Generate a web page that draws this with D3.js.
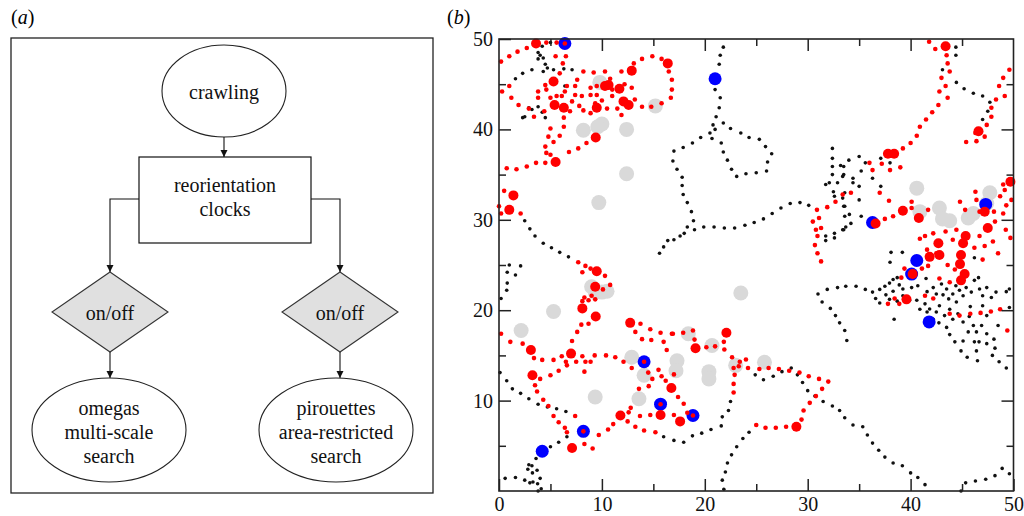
<!DOCTYPE html>
<html>
<head>
<meta charset="utf-8">
<script src="https://cdn.jsdelivr.net/npm/d3@7/dist/d3.min.js"></script>
<style>
  html, body { margin: 0; padding: 0; background: #fff; }
  svg { display: block; }
</style>
</head>
<body>
<svg id="fig" width="1024" height="516"></svg>
<script>
// ---------- panel (a): flow chart labels ----------
const topNode = ["crawling"];
const clockNode = ["reorientation", "clocks"];
const switchNode = ["on/off"];
const leftLeaf = ["omegas", "multi-scale", "search"];
const rightLeaf = ["pirouettes", "area-restricted", "search"];

// ---------- panel (b): positions in arena units [x, y] ----------
const grayPatches = [
  [9.8,45.2],[8.2,39.9],[10.0,40.6],[9.6,40.3],[12.4,40.0],[15.2,42.6],[12.4,35.1],[9.7,31.9],
  [40.6,33.5],[40.9,30.9],[42.8,31.3],[43.1,30.1],[43.8,29.9],[45.6,30.2],[46.1,30.7],[47.7,33.0],[47.4,31.8],
  [5.3,19.85],[2.15,17.75],[9.35,10.4],[12.9,14.8],[14.1,12.8],[13.6,10.2],[9.35,22.0],[10.0,22.0],[10.5,22.1],[9.0,22.6],
  [23.5,21.9],[18.4,17.4],[20.7,16.1],[17.3,14.4],[17.2,13.3],[20.4,13.2],[20.4,12.4],[23.0,13.9],[25.8,14.25]
];

const trackDots = [
  // upper left
  [3.8,48.5],[4.3,47.9],[3.8,47.8],[4.5,47.2],[4.7,46.8],[4.3,46.4],[3.2,46.6],[2.3,46.2],[1.6,45.6],[5.3,46.6],
  [6.3,46.7],[7.1,46.6],[6.4,44.8],[3.8,42.5],[2.9,42.4],[2.5,41.4],[4.5,41.3],[4.2,41.9],[5.0,49.6],[4.2,49.2],
  [4.0,48.2],[2.3,41.3],[3.2,42.2],
  [2.5,29.9],[3.0,29.0],[3.5,28.2],[4.3,27.4],[5.1,26.9],[5.9,26.4],[6.75,25.9],
  // middle top
  [21.8,49.1],[21.5,48.2],[21.4,47.2],[21.0,44.4],[21.5,43.5],[21.4,42.4],[21.1,41.4],[20.8,40.5],[21.8,40.7],[21.0,40.0],
  [20.5,39.6],[20.7,39.0],[19.6,39.1],[18.8,38.5],[17.9,38.0],[17.0,37.6],[16.9,36.5],[17.3,35.6],[17.8,34.7],[17.8,33.8],
  [17.9,32.8],[18.3,31.9],[18.7,30.9],[18.9,29.9],[18.3,29.2],[18.0,28.5],[17.6,28.2],[17.0,27.8],[16.4,27.7],[16.0,27.0],[15.6,26.3],
  [21.6,38.5],[21.8,37.5],[22.2,36.6],[22.6,35.6],[23.1,34.8],[24.0,35.1],[25.0,35.2],[26.0,35.4],[26.1,36.4],[26.5,37.3],
  [25.9,38.1],[25.3,38.9],[24.3,39.1],[23.5,39.6],[22.5,40.1],
  [19.0,28.9],[19.9,29.2],[20.9,29.2],[21.9,29.1],[22.9,29.1],[23.9,29.4],[24.8,29.7],[25.7,30.1],[26.55,30.7],[27.4,31.3],
  [28.3,31.8],[29.25,31.9],[30.1,31.6],
  // upper right
  [32.4,37.9],[32.4,36.8],[32.4,35.9],[32.4,35.0],[32.1,34.1],[31.75,33.9],[32.9,34.1],[32.5,33.1],[32.6,32.6],[33.5,35.9],
  [33.5,35.0],[33.4,32.4],[33.5,31.5],[31.75,28.2],[31.75,27.7],[32.6,28.5],[32.6,28.0],[33.5,28.9],
  [33.2,36.0],[34.0,36.6],[35.0,37.0],[33.4,34.8],[34.4,34.6],[35.2,35.4],[35.6,36.3],[36.3,34.6],[37.1,33.7],[35.0,33.7],
  [34.4,34.1],[33.6,33.0],[35.0,32.2],[33.6,31.5],[34.05,30.6],[33.6,30.4],[35.2,30.4],[34.2,29.6],[33.7,29.2],[33.4,28.9],
  [38.0,36.3],[37.1,36.8],
  [44.4,49.1],[44.4,48.2],[43.1,46.6],[44.45,45.2],[45.2,44.5],[46.1,44.0],[47.0,43.7],[47.7,43.0],[47.5,42.0],[47.0,41.1],
  [38.1,26.4],[39.2,26.4],[38.0,25.3],[46.2,25.8],
  // lower left
  [1.0,25.0],[2.1,24.9],[0.8,24.2],[1.6,23.9],[0.8,23.0],[0.75,22.2],[0.2,21.3],
  [0.1,13.1],[0.75,12.2],[1.3,11.3],[2.1,10.8],[2.9,10.2],[3.8,9.6],[4.7,9.3],[5.6,9.1],[6.5,8.8],
  [5.0,4.9],[5.8,5.4],[6.6,6.0],[3.6,3.6],[2.9,2.9],[3.2,2.8],[2.8,2.4],[3.25,2.0],[3.7,2.3],[3.3,1.0],[3.75,0.8],[4.1,0.25],
  [0.6,1.4],[1.6,1.5],[2.5,1.2],[3.0,0.9],[4.0,1.4],[3.8,0.0],
  // lower middle
  [16.0,6.0],[17.0,5.6],[17.95,5.4],[18.8,6.1],[19.7,6.4],[20.6,6.8],[21.6,7.2],[21.7,8.2],[22.3,8.9],[22.5,9.9],
  [24.3,6.5],[23.7,5.8],[23.1,4.9],[22.6,4.0],[22.2,3.1],[22.0,2.1],[21.7,1.2],[21.85,0.2],
  [24.9,12.85],[25.7,12.3],[26.65,12.7],[27.5,13.2],[28.4,13.6],[29.0,12.85],[29.5,12.0],[30.0,11.1],[30.7,10.5],[31.5,9.9],
  [32.4,9.4],[33.1,8.9],[33.6,8.1],[34.4,7.3],[35.35,7.1],[35.8,6.2],[36.3,5.3],[36.9,4.5],[37.5,3.75],[38.3,3.1],
  [39.2,2.8],[40.0,2.0],[40.7,1.5],[41.4,0.7],
  [31.0,21.8],[31.9,22.3],[32.9,22.5],[33.7,22.65],[31.4,20.9],[32.2,20.2],[32.7,19.4],[33.1,18.6],[33.6,17.75],[33.8,16.65],
  // lower right
  [34.7,22.65],[35.6,22.3],[36.3,22.0],[37.0,22.3],[37.5,22.65],[37.95,23.0],[38.3,23.4],[38.7,23.6],[36.6,21.3],[37.0,20.8],
  [37.6,21.7],[37.95,21.2],[38.3,22.1],[38.9,22.8],[39.25,22.35],[40.1,22.5],[40.7,22.7],[41.5,23.5],[41.6,22.05],[42.2,22.5],
  [42.5,21.8],[43.0,22.9],[43.15,21.7],[43.5,22.35],[43.7,21.25],[44.1,21.8],[44.4,22.7],[44.75,22.2],[45.1,21.6],[45.4,22.5],
  [45.9,22.0],[46.2,23.3],[46.6,23.6],[46.7,22.35],[47.0,21.6],[47.4,22.5],[47.85,21.4],[48.3,22.0],[49.3,22.05],[49.6,22.35],
  [40.6,21.1],[41.4,20.7],[41.85,20.14],[42.5,19.8],[42.8,20.5],[43.3,19.4],[43.8,20.1],[44.1,19.0],[44.6,19.6],[45.1,18.7],
  [45.7,19.3],[46.1,18.3],[46.4,17.6],[46.9,18.3],[47.4,17.4],[46.65,16.5],[46.2,16.5],[45.6,17.6],[45.1,16.6],[44.3,16.5],
  [43.8,17.3],[43.5,18.1],[42.75,18.6],[42.2,19.0],[41.6,19.8],[40.9,20.1],[39.9,21.1],[39.25,21.6],[38.7,21.0],[38.4,19.0],
  [44.9,15.5],[45.5,14.8],[46.4,15.5],[46.5,14.4],[47.95,15.0],[48.6,14.3],[49.3,13.6],[48.1,16.8],[48.2,15.8],[47.4,16.3],
  [48.5,18.3],[49.6,20.3],[47.0,20.5],[47.4,19.4],[45.8,20.4],[44.45,20.9],
  [44.9,0.0],[45.35,0.9],[46.3,1.1],[47.3,1.3],[48.2,1.7],[48.9,2.5],[49.6,1.9]
];

const redTrack = [
  // upper left
  [0.2,47.5],[1.0,48.1],[1.8,48.6],[2.7,49.0],[4.6,49.6],[5.6,49.6],[5.5,48.1],[6.5,48.1],
  [0.3,44.2],[1.0,44.8],[1.2,43.5],[1.9,42.7],[2.9,42.3],[3.4,41.4],[4.4,42.0],
  [3.8,44.2],[3.8,43.5],[4.6,44.4],[4.5,44.9],[5.0,43.5],[5.6,43.7],[6.1,43.7],[6.4,44.2],[6.6,44.8],[7.4,44.8],
  [7.4,43.8],[7.1,43.1],[8.05,43.7],[8.2,46.4],[9.2,46.3],[10.3,46.4],[11.9,46.4],[8.2,42.1],[8.9,41.8],[9.35,42.9],
  [8.9,43.8],[9.5,43.8],[8.9,44.6],[9.5,44.8],[10.5,42.3],[11.5,42.3],[11.9,41.6],[11.0,43.7],[11.0,44.4],[12.9,44.6],
  [13.2,43.3],[13.9,42.5],[14.8,42.5],[15.8,42.9],[16.7,43.5],[16.8,44.4],[16.8,45.5],[16.5,46.4],[15.8,47.8],[14.9,48.1],
  [13.9,47.8],[13.1,47.3],[6.2,47.3],[5.9,46.2],[7.6,45.5],[10.8,45.6],[12.2,45.0],[7.8,42.6],[6.9,42.0],[10.0,43.2],
  [5.0,40.1],[4.8,39.2],[5.3,38.6],[4.5,38.1],[4.6,37.4],[5.0,37.2],[5.9,39.3],[6.3,40.3],[6.3,41.3],[6.8,37.5],
  [7.7,37.9],[8.5,38.5],
  [0.75,35.7],[1.7,35.6],[2.7,35.9],[3.6,36.3],[4.5,36.3],
  [0.5,33.2],[0.0,31.5],[0.2,30.7],[2.1,30.7],[6.4,49.5],
  // right middle
  [30.9,31.1],[31.9,31.4],[32.7,32.0],[33.4,32.8],[31.1,30.2],[30.5,29.8],[31.3,29.1],[30.8,28.9],[30.95,28.2],[30.7,27.2],
  [30.95,26.3],[31.3,25.4],
  [41.8,49.7],[42.4,48.9],[43.5,48.2],[43.6,47.3],[43.8,46.4],[43.0,45.7],[43.4,44.8],[42.8,44.2],[43.6,43.5],[42.7,42.7],
  [42.1,41.9],[41.5,41.1],[40.9,40.3],[40.6,39.3],[40.0,38.5],[39.25,37.9],[39.0,35.8],[38.0,35.5],[37.2,36.2],[36.0,36.3],
  [49.6,46.6],[49.0,45.7],[48.6,44.8],[49.15,43.7],[48.3,43.3],[47.85,42.4],[47.85,41.4],[47.4,40.5],[47.2,39.2],[46.3,39.6],
  [45.4,38.6],[46.4,38.7],
  [34.2,33.0],[36.3,35.5],[37.0,33.0],[37.9,32.1],[38.3,30.4],[37.5,30.1],[40.1,32.0],[40.1,31.3],[41.7,31.1],[41.4,28.2],
  [42.2,28.5],[44.8,32.0],[45.3,31.1],[46.3,33.1],[46.4,32.2],[46.7,30.9],[48.1,30.9],[48.7,32.6],[49.15,33.3],[49.8,32.2],
  [49.0,33.9],[49.3,31.6],[48.2,29.8],[49.25,28.9],[49.7,28.0],[48.0,27.6],[47.2,27.1],[46.2,26.9],[44.45,28.9],[44.1,27.8],
  [43.4,28.7],[40.9,27.9],[42.5,26.3],[41.6,26.7],[46.7,28.2],[49.0,30.7],[47.0,25.6],[48.5,26.3],
  // lower right
  [37.8,20.7],[38.45,21.3],[38.9,20.7],[39.1,23.6],[41.1,24.6],[41.7,24.9],[43.6,25.0],[44.3,24.5],[45.1,23.6],[41.4,21.6],
  [42.2,21.3],[42.8,23.5],[43.8,23.1],[43.8,19.6],[44.75,19.4],[45.8,19.6],[46.8,19.7],[47.8,19.85],[48.7,20.1],[49.4,17.75],
  [39.4,24.6],
  // lower left
  [7.7,25.3],[8.4,24.9],[8.1,24.2],[8.9,24.6],[10.3,23.8],[10.8,22.8],[10.1,22.3],[8.3,21.4],[9.0,21.6],[8.7,21.1],
  [9.35,21.2],[8.1,21.0],[8.0,18.4],[8.7,18.5],[7.6,17.6],[7.1,16.6],[6.1,14.9],[6.5,14.3],[7.5,14.3],[8.1,14.9],
  [8.4,14.3],[8.9,14.3],[9.3,15.0],[10.4,15.0],[11.3,14.8],[12.1,14.3],[12.9,13.6],[0.2,17.4],[1.1,16.5],[2.3,16.3],
  [3.4,14.7],[4.2,14.5],[5.3,14.5],[4.0,12.4],[5.0,12.8],[5.8,13.3],[6.6,13.9],[8.3,13.2],[3.5,11.7],[3.7,11.0],
  [4.3,10.1],[4.8,9.4],[5.3,8.3],[5.8,7.6],[6.4,7.0],[7.4,8.3],[6.6,6.5],[8.3,5.2],[9.1,4.7],[9.7,6.2],
  [10.6,6.8],[11.1,7.4],[12.6,8.7],[12.5,7.7],[13.25,7.1],[14.1,6.7],[15.2,6.5],[12.8,9.2],[13.7,8.3],[14.7,8.4],
  [13.6,11.3],[14.55,11.6],[13.75,18.5],[13.25,17.6],[13.9,16.8],[14.7,17.9],[15.7,17.5],[14.8,16.7],[16.0,16.5],[16.8,17.4],
  [16.3,15.6],[15.5,13.4],[15.8,12.7],[16.2,12.2],[14.5,13.1],[14.9,12.4],[8.2,6.6],[14.1,14.3],[15.7,9.6],[18.85,8.35],
  // lower middle
  [16.9,17.4],[17.9,17.5],[18.85,17.75],[19.0,16.75],[20.15,15.9],[21.0,16.0],[21.85,16.5],[21.9,15.65],[22.65,14.8],[23.4,14.3],
  [24.0,14.55],[23.3,13.8],[24.2,13.6],[25.3,13.5],[26.2,13.6],[27.2,13.5],[28.2,13.3],[29.2,13.1],[30.1,12.7],[31.1,12.4],
  [32.0,12.1],[31.4,11.3],[30.8,10.5],[30.2,9.75],[29.6,8.9],[29.4,7.9],[27.9,7.1],[26.9,7.0],[25.9,7.0],[25.0,7.3],
  [22.8,13.6],[22.9,12.85],[22.8,11.85],[22.8,10.9],[17.0,12.9],[17.4,10.4],[17.95,9.65],[17.0,8.4],[18.3,8.65]
];

const redEvents = [
  [3.6,49.5],[5.3,45.3],[5.4,42.7],[6.3,42.4],[9.5,42.4],[9.4,39.1],[5.5,36.4],[10.3,44.8],[10.65,44.9],[11.7,44.5],
  [12.9,46.5],[12.1,43.1],[12.6,42.7],[16.4,47.3],[1.4,32.7],[1.0,31.1],
  [43.4,49.2],[46.6,39.8],[37.8,37.3],[38.4,37.3],[39.25,31.0],[40.8,30.2],[47.2,30.9],[47.5,29.1],[45.35,28.2],[45.1,27.4],
  [42.7,27.4],[44.9,26.1],[42.8,26.1],[49.7,34.2],[41.85,25.9],[36.6,29.6],
  [9.5,24.3],[9.35,22.6],[8.1,20.2],[9.4,19.3],[12.75,18.6],[3.1,15.6],[3.25,12.8],[7.0,15.2],[7.1,4.75],[11.8,8.35],
  [15.7,8.4],[16.75,11.4],
  [22.1,17.5],[19.1,15.8],[17.6,7.7],[28.9,7.1],
  [40.2,24.0],[39.6,21.2],[44.8,25.1],[45.25,24.0],[44.9,23.3]
];

const blueEvents = [
  [6.4,49.5],[21.0,45.6],[36.3,29.7],[47.3,31.7],[40.6,25.5],[40.1,24.0],[41.8,18.7],
  [4.2,4.4],[8.2,6.6],[14.1,14.3],[15.7,9.6],[18.85,8.35]
];

const xMajor = [0, 10, 20, 30, 40, 50];
const xMinor = [5, 15, 25, 35, 45];
const yMajor = [10, 20, 30, 40, 50];
const yMinor = [5, 15, 25, 35, 45];

const SERIF = "'Liberation Serif', 'Times New Roman', Times, 'DejaVu Serif', serif";
const svg = d3.select("#fig");

// ---------- panel (a) ----------
const a = svg.append("g");
a.append("text").attr("x", 11).attr("y", 24).style("font-family", SERIF).style("font-size", "20px")
  .html('(<tspan font-style="italic">a</tspan>)');

a.append("rect").attr("x", 11).attr("y", 38).attr("width", 422).attr("height", 455)
  .attr("fill", "none").attr("stroke", "#222").attr("stroke-width", 1.3);

const defs = svg.append("defs");
defs.append("marker").attr("id", "head").attr("viewBox", "0 0 10 10")
  .attr("refX", 10).attr("refY", 5).attr("markerWidth", 7).attr("markerHeight", 8)
  .attr("markerUnits", "userSpaceOnUse").attr("orient", "auto")
  .append("path").attr("d", "M0,0 L10,5 L0,10 Z").attr("fill", "#111");

const edge = (d) => a.append("path").attr("d", d).attr("fill", "none")
  .attr("stroke", "#111").attr("stroke-width", 1.1).attr("marker-end", "url(#head)");

function lines(arr, cx, baselines) {
  arr.forEach((t, i) => a.append("text").attr("x", cx).attr("y", baselines[i])
    .attr("text-anchor", "middle").style("font-family", SERIF).style("font-size", "20px")
    .style("fill", "#111").text(t));
}

// crawling
a.append("ellipse").attr("cx", 224).attr("cy", 91).attr("rx", 62).attr("ry", 46)
  .attr("fill", "#fff").attr("stroke", "#222").attr("stroke-width", 1.1);
lines(topNode, 224, [99]);
edge("M224,137 V157");

// reorientation clocks
a.append("rect").attr("x", 139).attr("y", 157).attr("width", 172).attr("height", 86)
  .attr("fill", "#fff").attr("stroke", "#111").attr("stroke-width", 1.2);
lines(clockNode, 225, [192, 216]);
edge("M139,199 H110 V272");
edge("M311,199 H340 V272");

// on/off switches and leaves
[[110, 109, leftLeaf], [340, 336, rightLeaf]].forEach(([dx, ex, leaf]) => {
  a.append("path")
    .attr("d", `M${dx},272 L${dx + 58},312 L${dx},352 L${dx - 58},312 Z`)
    .attr("fill", "#e0e0e0").attr("stroke", "#333").attr("stroke-width", 1.1);
  lines(switchNode, dx, [320]);
  edge(`M${dx},352 V378`);
  a.append("ellipse").attr("cx", ex).attr("cy", 430).attr("rx", 77).attr("ry", 52)
    .attr("fill", "#fff").attr("stroke", "#222").attr("stroke-width", 1.1);
  lines(leaf, ex, [415, 439, 463]);
});

// ---------- panel (b) ----------
const x = d3.scaleLinear().domain([0, 50]).range([499, 1013.5]);
const y = d3.scaleLinear().domain([0, 50]).range([491, 39]);

svg.append("text").attr("x", 447).attr("y", 24).style("font-family", SERIF).style("font-size", "20px")
  .html('(<tspan font-style="italic">b</tspan>)');

const plot = svg.append("g");

plot.selectAll("circle.gray").data(grayPatches).join("circle").attr("class", "gray")
  .attr("cx", d => x(d[0])).attr("cy", d => y(d[1])).attr("r", 7.5).attr("fill", "#d9d9d9");

plot.selectAll("circle.track").data(trackDots).join("circle").attr("class", "track")
  .attr("cx", d => x(d[0])).attr("cy", d => y(d[1])).attr("r", 1.8).attr("fill", "#111");

plot.selectAll("circle.blue").data(blueEvents).join("circle").attr("class", "blue")
  .attr("cx", d => x(d[0])).attr("cy", d => y(d[1])).attr("r", 6.5).attr("fill", "#0000ff");

plot.selectAll("circle.redt").data(redTrack).join("circle").attr("class", "redt")
  .attr("cx", d => x(d[0])).attr("cy", d => y(d[1])).attr("r", 2.3).attr("fill", "#ff0000");

plot.selectAll("circle.rede").data(redEvents).join("circle").attr("class", "rede")
  .attr("cx", d => x(d[0])).attr("cy", d => y(d[1])).attr("r", 5).attr("fill", "#ff0000");

// axes with inward ticks on all four sides
function styleAxis(g) {
  g.select(".domain").remove();
  g.attr("font-family", null).attr("font-size", null);
  g.selectAll("line").attr("stroke", "#222").attr("stroke-width", 1.5);
  g.selectAll("text").style("font-family", SERIF).style("font-size", "20px").style("fill", "#111");
}

svg.append("g").attr("transform", "translate(0,491)")
  .call(d3.axisBottom(x).tickValues(xMajor).tickSizeInner(-12).tickSizeOuter(0)
    .tickPadding(6).tickFormat(d3.format("d"))).call(styleAxis);
svg.append("g").attr("transform", "translate(0,491)")
  .call(d3.axisBottom(x).tickValues(xMinor).tickSizeInner(-7).tickSizeOuter(0).tickFormat(""))
  .call(styleAxis);

svg.append("g").attr("transform", "translate(499,0)")
  .call(d3.axisLeft(y).tickValues(yMajor).tickSizeInner(-12).tickSizeOuter(0)
    .tickPadding(6).tickFormat(d3.format("d"))).call(styleAxis);
svg.append("g").attr("transform", "translate(499,0)")
  .call(d3.axisLeft(y).tickValues(yMinor).tickSizeInner(-7).tickSizeOuter(0).tickFormat(""))
  .call(styleAxis);

svg.append("g").attr("transform", "translate(0,39)")
  .call(d3.axisTop(x).tickValues(xMajor.slice(1, -1)).tickSizeInner(-12).tickSizeOuter(0).tickFormat(""))
  .call(styleAxis);
svg.append("g").attr("transform", "translate(0,39)")
  .call(d3.axisTop(x).tickValues(xMinor).tickSizeInner(-7).tickSizeOuter(0).tickFormat(""))
  .call(styleAxis);

svg.append("g").attr("transform", "translate(1013.5,0)")
  .call(d3.axisRight(y).tickValues(yMajor.slice(0, -1)).tickSizeInner(-12).tickSizeOuter(0).tickFormat(""))
  .call(styleAxis);
svg.append("g").attr("transform", "translate(1013.5,0)")
  .call(d3.axisRight(y).tickValues(yMinor).tickSizeInner(-7).tickSizeOuter(0).tickFormat(""))
  .call(styleAxis);

svg.append("rect").attr("x", x(0)).attr("y", y(50))
  .attr("width", x(50) - x(0)).attr("height", y(0) - y(50))
  .attr("fill", "none").attr("stroke", "#222").attr("stroke-width", 1.6);
</script>
</body>
</html>
